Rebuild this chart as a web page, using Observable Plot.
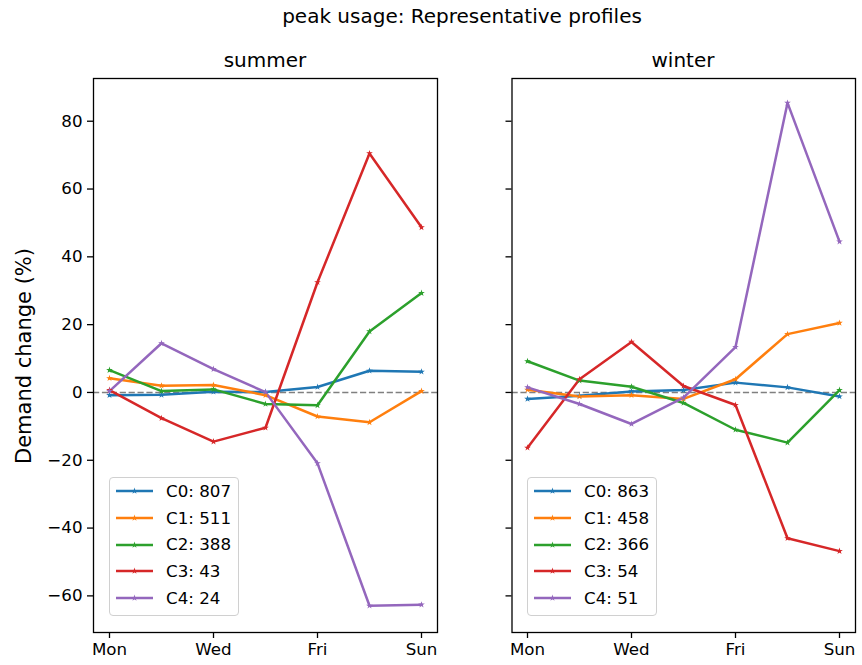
<!DOCTYPE html>
<html>
<head>
<meta charset="utf-8">
<script src="https://cdn.jsdelivr.net/npm/d3@7"></script>
<script src="https://cdn.jsdelivr.net/npm/@observablehq/plot@0.6"></script>
<style>
  body { margin: 0; background: #fff; font-family: "DejaVu Sans", sans-serif; }
  #chart { position: relative; width: 862px; height: 665px; background: #fff; overflow: hidden; }
  .abs { position: absolute; }
  .txt { color: #000; white-space: nowrap; }
  .legend { position: absolute; border: 1px solid #d0d0d0; border-radius: 4px; background: rgba(255,255,255,0.8);
            padding: 0 7px 4px 6px; font-size: 16.7px; color: #000; }
  .legend .row { height: 26.7px; line-height: 26.7px; display: flex; align-items: center; white-space: nowrap; }
  .legend svg { margin-right: 13px; flex: none; }
</style>
</head>
<body>
<div id="chart"></div>
<script>
// ---- data ----
const days = ["Mon", "Tue", "Wed", "Thu", "Fri", "Sat", "Sun"];
const tickDays = ["Mon", "Wed", "Fri", "Sun"];
const yTicks = [-60, -40, -20, 0, 20, 40, 60, 80];
const clusters = ["C0", "C1", "C2", "C3", "C4"];
const colors = ["#1f77b4", "#ff7f0e", "#2ca02c", "#d62728", "#9467bd"];

const summerC0 = [-0.8, -0.7, 0.2, 0.1, 1.6, 6.4, 6.1];
const summerC1 = [4.2, 2.0, 2.2, -0.8, -7.1, -8.8, 0.4];
const summerC2 = [6.6, 0.4, 0.9, -3.4, -3.8, 18.0, 29.3];
const summerC3 = [0.7, -7.6, -14.5, -10.4, 32.5, 70.5, 48.7];
const summerC4 = [0.4, 14.5, 6.9, 0.1, -20.9, -62.9, -62.6];
const summerCounts = [807, 511, 388, 43, 24];

const winterC0 = [-1.9, -1.0, 0.3, 0.7, 2.9, 1.5, -1.2];
const winterC1 = [0.8, -1.2, -0.8, -1.9, 3.9, 17.2, 20.5];
const winterC2 = [9.2, 3.5, 1.7, -3.1, -11.0, -14.8, 0.7];
const winterC3 = [-16.3, 3.9, 14.9, 1.9, -3.7, -43.0, -46.8];
const winterC4 = [1.5, -3.4, -9.3, -1.5, 13.4, 85.4, 44.5];
const winterCounts = [863, 458, 366, 54, 51];

const title = "peak usage: Representative profiles";
const seasons = ["summer", "winter"];
const yLabel = "Demand change (%)";

// ---- build tables ----
function toRows(seriesList) {
  return seriesList.flatMap((vals, i) => vals.map((v, j) => ({cluster: clusters[i], day: days[j], value: v})));
}
const summerData = toRows([summerC0, summerC1, summerC2, summerC3, summerC4]);
const winterData = toRows([winterC0, winterC1, winterC2, winterC3, winterC4]);

const fmt = d => d < 0 ? "\u2212" + Math.abs(d) : String(d);
const markerR = 2.1;

function panel(data, width, marginLeft, marginRight, showLabels) {
  return Plot.plot({
    width, height: 665,
    marginLeft, marginRight, marginTop: 78, marginBottom: 33,
    style: {fontFamily: "DejaVu Sans", fontSize: "16.7px", color: "#000", background: "transparent", overflow: "visible"},
    x: {type: "point", domain: days, padding: 0.3, label: null},
    y: {domain: [-70.8, 92.6], label: null},
    color: {domain: clusters, range: colors},
    marks: [
      Plot.ruleY([0], {stroke: "#808080", strokeWidth: 1.6, strokeDasharray: "6.2,2.7"}),
      Plot.line(data, {x: "day", y: "value", z: "cluster", stroke: "cluster", strokeWidth: 2.5}),
      Plot.dot(data, {x: "day", y: "value", fill: "cluster", symbol: "star", r: markerR, stroke: null}),
      Plot.axisX({ticks: tickDays, tickSize: 6, tickPadding: 5, label: null, strokeWidth: 1.3, fontSize: 16.7}),
      Plot.axisY({ticks: yTicks, tickSize: 6, tickPadding: 5, label: null, strokeWidth: 1.3, fontSize: 16.7,
                  tickFormat: showLabels ? fmt : () => ""}),
      Plot.frame({stroke: "#000", strokeWidth: 1.3})
    ]
  });
}

const chart = document.getElementById("chart");

const left = panel(summerData, 470, 93, 33, true);
left.classList.add("abs");
left.style.left = "0px"; left.style.top = "0px";
chart.appendChild(left);

const right = panel(winterData, 392, 41.5, 7, false);
right.classList.add("abs");
right.style.left = "470px"; right.style.top = "0px";
chart.appendChild(right);

function addText(text, cx, cy, size, rotate) {
  const d = document.createElement("div");
  d.className = "abs txt";
  d.textContent = text;
  d.style.fontSize = size + "px";
  d.style.lineHeight = size + "px";
  d.style.left = cx + "px";
  d.style.top = cy + "px";
  d.style.transform = "translate(-50%,-50%)" + (rotate ? " rotate(-90deg)" : "");
  chart.appendChild(d);
}
addText(title, 462, 16, 20);
addText(seasons[0], 265, 60, 20);
addText(seasons[1], 683, 60, 20);
addText(yLabel, 24, 356, 21, true);

function addLegend(counts, x, y) {
  const box = document.createElement("div");
  box.className = "legend";
  box.style.left = x + "px";
  box.style.top = y + "px";
  clusters.forEach((c, i) => {
    const row = document.createElement("div");
    row.className = "row";
    const ns = "http://www.w3.org/2000/svg";
    const s = document.createElementNS(ns, "svg");
    s.setAttribute("width", 37); s.setAttribute("height", 12);
    const ln = document.createElementNS(ns, "line");
    ln.setAttribute("x1", 0); ln.setAttribute("x2", 37); ln.setAttribute("y1", 6); ln.setAttribute("y2", 6);
    ln.setAttribute("stroke", colors[i]); ln.setAttribute("stroke-width", 2.5);
    s.appendChild(ln);
    const st = document.createElementNS(ns, "path");
    st.setAttribute("d", d3.symbol(d3.symbolStar, Math.PI * markerR * markerR)());
    st.setAttribute("transform", "translate(18.5,6)");
    st.setAttribute("fill", colors[i]);
    s.appendChild(st);
    row.appendChild(s);
    const t = document.createElement("span");
    t.textContent = c + ": " + counts[i];
    row.appendChild(t);
    box.appendChild(row);
  });
  chart.appendChild(box);
}
addLegend(summerCounts, 109, 477);
addLegend(winterCounts, 527, 477);
</script>
</body>
</html>
